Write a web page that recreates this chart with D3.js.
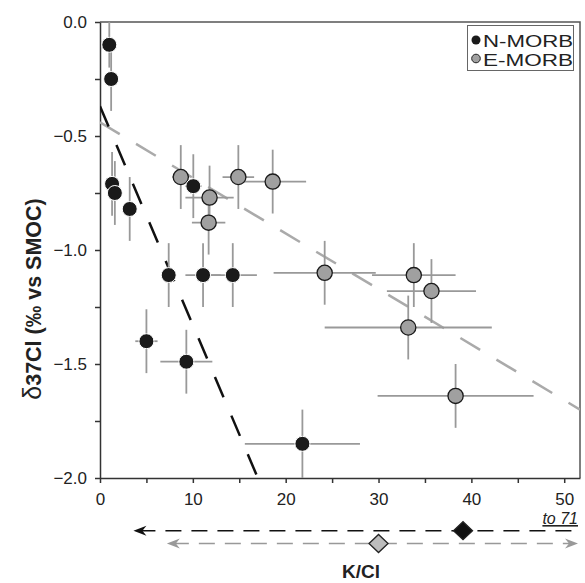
<!DOCTYPE html>
<html>
<head>
<meta charset="utf-8">
<script src="https://cdn.jsdelivr.net/npm/d3@7"></script>
<style>
  body { margin: 0; background: #fff; }
  text { font-family: "Liberation Sans", Arial, sans-serif; }
</style>
</head>
<body>
<svg id="chart"></svg>
<script>
// N-MORB samples (K/Cl, d37Cl and their errors)
const nK    = [1.0, 1.2, 1.3, 1.6, 3.2, 10.05, 7.4, 11.1, 14.3, 5.0, 9.3, 21.8];
const nD    = [-0.10, -0.25, -0.71, -0.75, -0.82, -0.72, -1.11, -1.11, -1.11, -1.40, -1.49, -1.85];
const nKErr = [0.3, 0.3, 0.3, 0.3, 0.4, 0.9, 0.6, 1.9, 2.6, 1.2, 2.8, 6.2];
const nDErr = [0.10, 0.14, 0.14, 0.14, 0.14, 0.14, 0.14, 0.14, 0.14, 0.14, 0.14, 0.15];

// E-MORB samples
const eK    = [8.7, 11.8, 11.7, 14.9, 18.6, 24.2, 33.8, 35.7, 33.2, 38.3];
const eD    = [-0.68, -0.77, -0.88, -0.68, -0.70, -1.10, -1.11, -1.18, -1.34, -1.64];
const eKErr = [0.9, 2.6, 1.8, 1.7, 3.6, 5.5, 4.5, 4.8, 9.0, 8.4];
const eDErr = [0.14, 0.14, 0.14, 0.14, 0.14, 0.14, 0.14, 0.14, 0.14, 0.14];

// trend lines (end points)
const nFitK = [0, 17.0];
const nFitD = [-0.37, -2.0];
const eFitK = [0, 51.7];
const eFitD = [-0.44, -1.70];

// K/Cl ranges shown under the axis
const nRange = [3.6, 71];
const nMean = 39.1;
const eRange = [7.2, 51.7];
const eMean = 30;

const xTicks = [0, 5, 10, 15, 20, 25, 30, 35, 40, 45, 50];
const yTicks = [0, -0.25, -0.5, -0.75, -1, -1.25, -1.5, -1.75, -2];
const legendLabels = ["N-MORB", "E-MORB"];

const W = 585, H = 583;
const svg = d3.select("#chart").attr("width", W).attr("height", H);

const x = d3.scaleLinear().domain([0, 51.7]).range([100, 580]);
const y = d3.scaleLinear().domain([0, -2]).range([22, 478]);

svg.append("clipPath").attr("id", "plot")
   .append("rect")
   .attr("x", x(0)).attr("y", y(0))
   .attr("width", x(51.7) - x(0)).attr("height", y(-2) - y(0));

// frame top + right
svg.append("path")
   .attr("d", `M${x(0)},${y(0)}H${x(51.7)}V${y(-2)}`)
   .attr("fill", "none").attr("stroke", "#555").attr("stroke-width", 1.5);

// axes
const xAxis = svg.append("g")
   .attr("transform", `translate(0,${y(-2)})`)
   .call(d3.axisBottom(x).tickValues(xTicks).tickSize(5).tickSizeOuter(0).tickPadding(10)
        .tickFormat(d => d % 10 === 0 ? d : ""));
const yAxis = svg.append("g")
   .attr("transform", `translate(${x(0)},0)`)
   .call(d3.axisLeft(y).tickValues(yTicks).tickSize(5).tickSizeOuter(0).tickPadding(8)
        .tickFormat(d => (Math.abs(d * 2) % 1 === 0) ? d3.format(".1f")(d) : ""));
[xAxis, yAxis].forEach(a => {
    a.selectAll("path, line").attr("stroke", "#333").attr("stroke-width", 1.5);
    a.selectAll("text").attr("font-size", 17).attr("fill", "#222")
     .style("font-family", "'Liberation Sans', Arial, sans-serif");
});

const plot = svg.append("g").attr("clip-path", "url(#plot)");

// trend lines
const line = d3.line().x(d => x(d[0])).y(d => y(d[1]));
plot.append("path")
    .attr("d", line(d3.zip(eFitK, eFitD)))
    .attr("fill", "none").attr("stroke", "#aaa").attr("stroke-width", 2.5)
    .attr("stroke-dasharray", "23,19");
plot.append("path")
    .attr("d", line(d3.zip(nFitK, nFitD)))
    .attr("fill", "none").attr("stroke", "#111").attr("stroke-width", 2.5)
    .attr("stroke-dasharray", "22,20");

// error bars
function errorBars(K, D, KE, DE) {
    const g = plot.append("g").attr("stroke", "#999").attr("stroke-width", 1.8);
    K.forEach((k, i) => {
        g.append("line").attr("x1", x(k - KE[i])).attr("x2", x(k + KE[i]))
         .attr("y1", y(D[i])).attr("y2", y(D[i]));
        g.append("line").attr("x1", x(k)).attr("x2", x(k))
         .attr("y1", y(D[i] + DE[i])).attr("y2", y(D[i] - DE[i]));
    });
}
errorBars(eK, eD, eKErr, eDErr);
errorBars(nK, nD, nKErr, nDErr);

// points
plot.append("g").selectAll("circle")
    .data(d3.range(eK.length)).enter().append("circle")
    .attr("cx", i => x(eK[i])).attr("cy", i => y(eD[i])).attr("r", 7.6)
    .attr("fill", "#a0a0a0").attr("stroke", "#1a1a1a").attr("stroke-width", 1.3);
plot.append("g").selectAll("circle")
    .data(d3.range(nK.length)).enter().append("circle")
    .attr("cx", i => x(nK[i])).attr("cy", i => y(nD[i])).attr("r", 7.5)
    .attr("fill", "#1a1a1a").attr("stroke", "#fff").attr("stroke-width", 1);

// legend
const leg = svg.append("g");
leg.append("rect").attr("x", 467.5).attr("y", 25.5).attr("width", 106).attr("height", 45)
   .attr("fill", "#fff").attr("stroke", "#666").attr("stroke-width", 1);
leg.append("circle").attr("cx", 476).attr("cy", 40).attr("r", 4.5).attr("fill", "#1a1a1a");
leg.append("circle").attr("cx", 476).attr("cy", 58.5).attr("r", 4.3)
   .attr("fill", "#a0a0a0").attr("stroke", "#222").attr("stroke-width", 1);
legendLabels.forEach((t, i) => {
    leg.append("text").attr("x", 483).attr("y", 46.5 + i * 19.5)
       .attr("font-size", 16.8).attr("fill", "#222")
       .attr("textLength", 90).attr("lengthAdjust", "spacingAndGlyphs")
       .text(t);
});

// y label
svg.append("text")
   .attr("transform", "translate(41,299) rotate(-90)")
   .attr("text-anchor", "middle").attr("font-size", 21.5).attr("font-weight", "bold").attr("fill", "#222")
   .html('<tspan font-weight="normal" font-size="25">δ</tspan>37Cl (‰ vs SMOC)');

// K/Cl ranges under the axis
const xr = v => Math.min(x(v), 578);
function rangeArrow(r, mean, yy, col, fillD, rightHead) {
    svg.append("line").attr("x1", x(r[0]) + 6).attr("x2", rightHead ? xr(r[1]) - 6 : xr(r[1]))
       .attr("y1", yy).attr("y2", yy)
       .attr("stroke", col).attr("stroke-width", 1.6).attr("stroke-dasharray", "16,10");
    const lx = x(r[0]);
    svg.append("path").attr("d", `M${lx},${yy}L${lx + 13},${yy - 5}L${lx + 9},${yy}L${lx + 13},${yy + 5}Z`)
       .attr("fill", col);
    if (rightHead) {
        const rx = xr(r[1]);
        svg.append("path").attr("d", `M${rx},${yy}L${rx - 13},${yy - 5}L${rx - 9},${yy}L${rx - 13},${yy + 5}Z`)
           .attr("fill", col);
    }
    const mx = x(mean);
    svg.append("path").attr("d", `M${mx - 9.5},${yy}L${mx},${yy - 9}L${mx + 9.5},${yy}L${mx},${yy + 9}Z`)
       .attr("fill", fillD).attr("stroke", "#222").attr("stroke-width", 1.3);
}
rangeArrow(nRange, nMean, 530.7, "#111", "#111", false);
rangeArrow(eRange, eMean, 543.5, "#999", "#bdbdbd", true);

svg.append("text").attr("x", 578).attr("y", 524).attr("text-anchor", "end")
   .attr("font-size", 16).attr("font-style", "italic").attr("fill", "#222")
   .style("text-decoration", "underline")
   .text("to " + nRange[1]);

// x label
svg.append("text").attr("x", 361).attr("y", 578).attr("text-anchor", "middle")
   .attr("font-size", 19).attr("font-weight", "bold").attr("fill", "#222")
   .text("K/Cl");
</script>
</body>
</html>
